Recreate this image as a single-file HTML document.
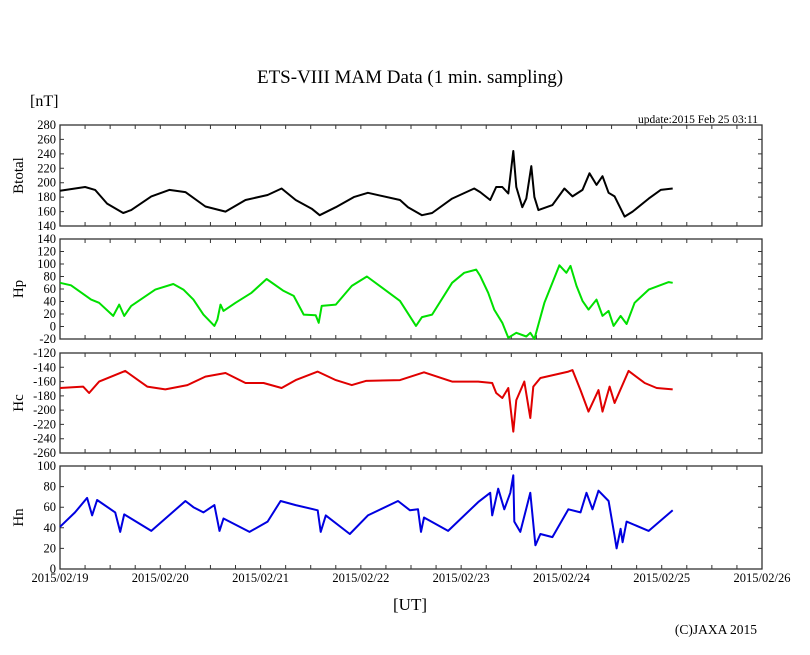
<!DOCTYPE html>
<html><head><meta charset="utf-8"><style>
body{margin:0;background:#fff;}
svg{display:block;font-family:"Liberation Serif",serif;}
</style></head><body>
<svg id="chart" width="810" height="655" viewBox="0 0 810 655">
<text x="410" y="83" text-anchor="middle" font-size="19">ETS-VIII MAM Data (1 min. sampling)</text>
<text x="30" y="106" font-size="16">[nT]</text>
<text x="758" y="123" text-anchor="end" font-size="11.5">update:2015 Feb 25 03:11</text>
<text x="410" y="610" text-anchor="middle" font-size="17">[UT]</text>
<text x="757" y="634" text-anchor="end" font-size="13.5">(C)JAXA 2015</text>
<g id="panels"></g>
</svg>
<script>
const xTickLabels = ["2015/02/19","2015/02/20","2015/02/21","2015/02/22","2015/02/23","2015/02/24","2015/02/25","2015/02/26"];
const btT = [0,0.25,0.35,0.47,0.63,0.71,0.91,1.09,1.25,1.45,1.65,1.85,2.07,2.21,2.35,2.51,2.59,2.75,2.93,3.07,3.39,3.47,3.61,3.71,3.91,4.13,4.19,4.29,4.35,4.41,4.47,4.52,4.55,4.61,4.65,4.70,4.73,4.77,4.91,5.03,5.11,5.21,5.28,5.35,5.41,5.47,5.53,5.63,5.71,5.87,5.99,6.11];
const btV = [189,194,190,171,158,162,181,190,187,167,160,176,183,192,176,164,155,166,180,186,176,166,155,158,178,192,187,176,194,194,185,244,194,166,178,223,180,162,169,192,181,190,213,197,209,186,181,153,160,178,190,192];
const hpT = [0,0.11,0.31,0.39,0.53,0.59,0.64,0.71,0.95,1.13,1.23,1.33,1.43,1.54,1.57,1.6,1.63,1.75,1.91,2.06,2.23,2.33,2.43,2.55,2.58,2.61,2.75,2.91,3.06,3.39,3.55,3.61,3.71,3.91,4.03,4.15,4.19,4.27,4.33,4.41,4.47,4.55,4.65,4.69,4.73,4.83,4.91,4.98,5.05,5.09,5.15,5.21,5.27,5.35,5.41,5.47,5.52,5.59,5.65,5.73,5.87,6.07,6.11];
const hpV = [70,66,43,38,17,35,17,33,59,68,59,43,19,1,11,35,25,38,54,76,57,49,19,18,6,33,35,65,80,41,1,15,19,70,86,91,81,54,27,6,-18,-10,-16,-10,-20,38,70,98,86,97,65,41,27,43,17,25,1,17,4,38,59,71,70];
const hcT = [0,0.23,0.29,0.39,0.65,0.87,1.05,1.27,1.45,1.65,1.85,2.03,2.21,2.35,2.57,2.75,2.91,3.05,3.39,3.63,3.91,4.17,4.31,4.35,4.41,4.47,4.52,4.55,4.63,4.69,4.72,4.79,5.07,5.11,5.19,5.27,5.37,5.41,5.48,5.53,5.67,5.83,5.95,6.11];
const hcV = [-169,-167,-176,-160,-145,-167,-171,-165,-153,-148,-162,-162,-169,-158,-146,-158,-165,-159,-158,-147,-160,-160,-162,-176,-183,-169,-230,-186,-160,-211,-167,-155,-146,-144,-172,-202,-172,-202,-167,-190,-145,-162,-169,-171];
const hnT = [0,0.15,0.27,0.32,0.37,0.55,0.6,0.64,0.91,1.25,1.33,1.43,1.54,1.59,1.63,1.89,2.07,2.2,2.35,2.57,2.6,2.65,2.89,3.07,3.37,3.49,3.57,3.6,3.63,3.87,4.17,4.29,4.31,4.37,4.43,4.49,4.52,4.53,4.59,4.64,4.69,4.74,4.79,4.91,5.07,5.19,5.25,5.31,5.37,5.47,5.53,5.55,5.59,5.61,5.65,5.87,6.11];
const hnV = [41,55,69,52,67,55,36,53,37,66,60,55,62,37,49,36,46,66,62,57,36,52,34,52,66,57,58,36,50,37,65,74,52,78,58,74,91,46,36,55,74,23,34,31,58,55,74,58,76,66,32,20,39,26,46,37,57];
const btTicks=[140,160,180,200,220,240,260,280];
const hpTicks=[-20,0,20,40,60,80,100,120,140];
const hcTicks=[-260,-240,-220,-200,-180,-160,-140,-120];
const hnTicks=[0,20,40,60,80,100];

const NS="http://www.w3.org/2000/svg";
const root=document.getElementById('panels');
const X0=60, X1=762, DAYS=7;
const xs=t=>X0+(X1-X0)*t/DAYS;
function mk(tag,attrs,parent){const e=document.createElementNS(NS,tag);for(const k in attrs)e.setAttribute(k,attrs[k]);(parent||root).appendChild(e);return e;}
const panels=[
 {name:'btotal',label:'Btotal',top:125,bot:226,min:140,max:280,ticks:btTicks,T:btT,V:btV,color:'#000'},
 {name:'hp',label:'Hp',top:239,bot:339,min:-20,max:140,ticks:hpTicks,T:hpT,V:hpV,color:'#00e000'},
 {name:'hc',label:'Hc',top:353,bot:453,min:-260,max:-120,ticks:hcTicks,T:hcT,V:hcV,color:'#e00000'},
 {name:'hn',label:'Hn',top:466,bot:569,min:0,max:100,ticks:hnTicks,T:hnT,V:hnV,color:'#0000e0'}
];
panels.forEach((p,pi)=>{
  const g=mk('g',{});
  
  
  const ys=v=>p.bot-(v-p.min)/(p.max-p.min)*(p.bot-p.top);
  const fr=mk('rect',{x:X0,y:p.top,width:X1-X0,height:p.bot-p.top,fill:'none',stroke:'#333','stroke-width':1.3},g);
  
  
  let d='';
  for(let i=0;i<=DAYS*4;i++){const x=xs(i/4);d+=`M${x},${p.top}v4M${x},${p.bot}v-4`;}
  p.ticks.forEach(v=>{const y=ys(v);d+=`M${X0},${y}h4M${X1},${y}h-4`;
    const tl=mk('text',{x:X0-4,y:y+4,'text-anchor':'end','font-size':12.5},g);tl.textContent=v;
    
    });
  const tk=mk('path',{d:d,stroke:'#333','stroke-width':1,fill:'none'},g);
  
  
  const cy=(p.top+p.bot)/2;
  const yl=mk('text',{x:0,y:0,'text-anchor':'middle','font-size':15,transform:`translate(23,${cy}) rotate(-90)`},g);
  yl.textContent=p.label;
  
  
  const pts=p.T.map((t,i)=>xs(t).toFixed(1)+','+ys(Math.max(p.min,Math.min(p.max,p.V[i]))).toFixed(1)).join(' ');
  const ln=mk('polyline',{points:pts,fill:'none',stroke:p.color,'stroke-width':2,'stroke-linejoin':'round'},g);
  
  
});
xTickLabels.forEach((s,i)=>{
  const t=mk('text',{x:xs(i),y:582,'text-anchor':'middle','font-size':12.5});
  t.textContent=s;
  
  
});
</script>
</body></html>
